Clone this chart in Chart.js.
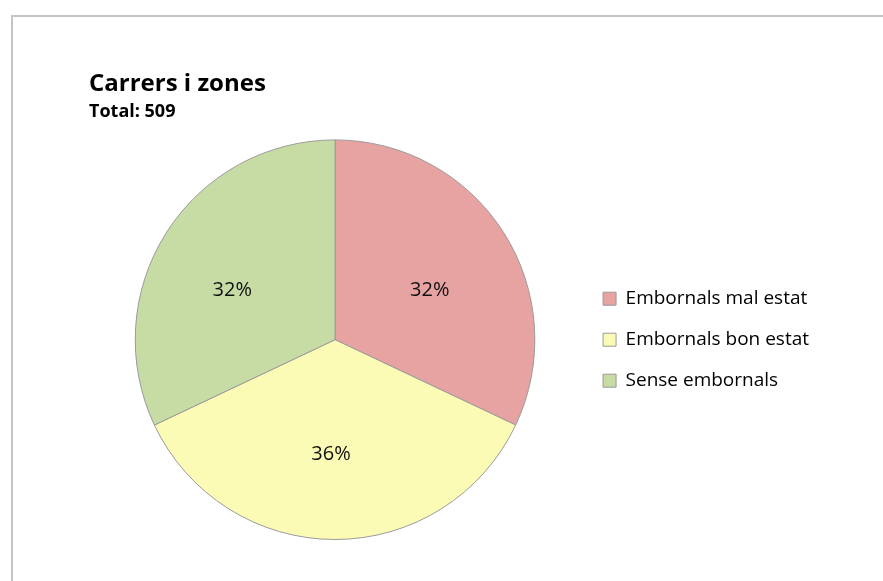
<!DOCTYPE html>
<html>
<head>
<meta charset="utf-8">
<script src="https://cdn.jsdelivr.net/npm/chart.js@4.4.0/dist/chart.umd.min.js"></script>
<style>
  html, body { margin: 0; padding: 0; background: #fff; }
  #wrap { position: relative; width: 883px; height: 581px; }
  #frame { position: absolute; left: 11px; top: 15px; right: 0; bottom: 0;
           border-top: 2px solid #c4c4c4; border-left: 2px solid #c4c4c4; }
  canvas { position: absolute; left: 0; top: 0; }
</style>
</head>
<body>
<div id="wrap">
  <div id="frame"></div>
  <canvas id="c" width="883" height="581"></canvas>
</div>
<script>
const categories = ["Embornals mal estat", "Embornals bon estat", "Sense embornals"];
const values = [163, 183, 163];
const colors = ["#E7A3A2", "#FCFBB6", "#C7DCA5"];
const titleText = "Carrers i zones";
const subtitleText = "Total: 509";

const total = values.reduce((a, b) => a + b, 0);

const pctLabels = {
  id: 'pctLabels',
  afterDatasetsDraw(chart) {
    const ctx = chart.ctx;
    const meta = chart.getDatasetMeta(0);
    ctx.save();
    ctx.font = '20px "Open Sans", sans-serif';
    ctx.fillStyle = '#111';
    ctx.textAlign = 'center';
    ctx.textBaseline = 'middle';
    meta.data.forEach((arc, i) => {
      const { x, y, startAngle, endAngle, outerRadius } = arc.getProps(['x', 'y', 'startAngle', 'endAngle', 'outerRadius'], true);
      const mid = (startAngle + endAngle) / 2;
      const pct = Math.round(values[i] / total * 100) + '%';
      ctx.fillText(pct,
        x + Math.cos(mid) * outerRadius * 0.585 - 4,
        y + Math.sin(mid) * outerRadius * 0.535 + 8);
    });
    ctx.restore();
  }
};

new Chart(document.getElementById('c'), {
  type: 'pie',
  data: {
    labels: categories,
    datasets: [{
      data: values,
      backgroundColor: colors,
      borderColor: '#9a9a9a',
      borderWidth: 1
    }]
  },
  options: {
    responsive: false,
    animation: false,
    layout: { padding: { left: 89, right: 64, top: 70, bottom: 41 } },
    plugins: {
      title: {
        display: true, text: titleText, align: 'start', color: '#000',
        font: { family: 'Open Sans', size: 24, weight: 'bold' },
        padding: { top: 0, bottom: 0 }
      },
      subtitle: {
        display: true, text: subtitleText, align: 'start', color: '#000',
        font: { family: 'Open Sans', size: 18, weight: 'bold' },
        padding: { top: 2, bottom: 17 }
      },
      legend: {
        position: 'right',
        fullSize: false,
        labels: {
          boxWidth: 13, boxHeight: 13, padding: 22, color: '#000',
          font: { family: 'Open Sans', size: 19 }
        }
      },
      tooltip: { enabled: false }
    }
  },
  plugins: [pctLabels]
});
</script>
</body>
</html>
